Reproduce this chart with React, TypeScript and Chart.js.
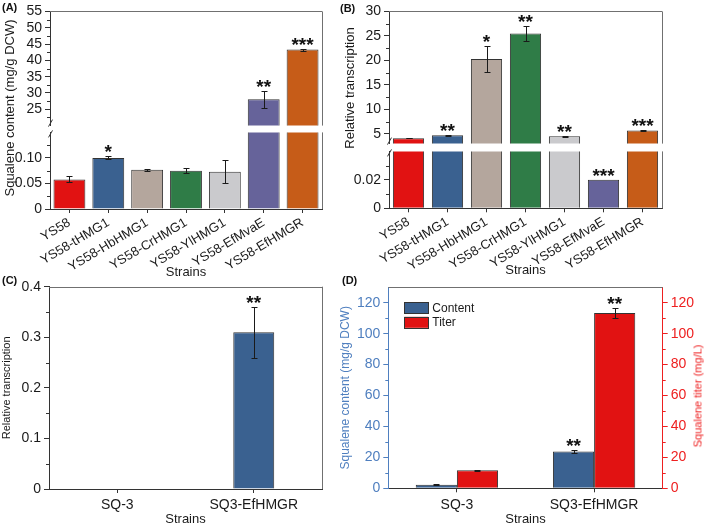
import React, { useEffect, useRef } from 'react';
import { Chart, registerables } from 'chart.js';

Chart.register(...registerables);

const FONT = '"Liberation Sans", Arial, Helvetica, sans-serif';
Chart.defaults.font.family = FONT;

// ---------- data ----------
const strainsAB = ['YS58', 'YS58-tHMG1', 'YS58-HbHMG1', 'YS58-CrHMG1', 'YS58-YlHMG1', 'YS58-EfMvaE', 'YS58-EfHMGR'];
const barColorsAB = ['#e11212', '#3a6190', '#b4a69d', '#2f7c47', '#cacacd', '#66639a', '#c65c18'];

const contentA = [0.058, 0.100, 0.077, 0.075, 0.073, 28.1, 43.3];
const contentAErr = [0.006, 0.003, 0.002, 0.005, 0.022, 2.6, 0.3];
const contentASig = ['', '*', '', '', '', '**', '***'];

const transB = [4.1, 4.7, 20.3, 25.5, 4.5, 0.02, 5.7];
const transBErr = [0.05, 0.08, 2.6, 1.5, 0.05, 0, 0.05];
const transBSig = ['', '**', '*', '**', '**', '***', '***'];

const strainsCD = ['SQ-3', 'SQ3-EfHMGR'];
const transC = [0, 0.31];
const transCErr = [0, 0.05];
const transCSig = ['', '**'];

const contentD = [2.3, 23.8];
const contentDErr = [0.2, 0.8];
const contentDSig = ['', '**'];
const titerD = [11.6, 113.4];
const titerDErr = [0.2, 3.5];
const titerDSig = ['', '**'];

// tick labels
const ticksAUpper = [25, 30, 35, 40, 45, 50, 55];
const ticksALower = [0, 0.05, 0.1];
const ticksBUpper = [5, 10, 15, 20, 25, 30];
const ticksBLower = [0, 0.02];
const ticksC = [0, 0.1, 0.2, 0.3, 0.4];
const ticksD = [0, 20, 40, 60, 80, 100, 120];

// ---------- styles ----------
const AXIS = '#333333';
const FRAME = '#707070';
const TXT = '#1a1a1a';
const BAR_EDGE = '#333333';
const BLUE_AX = '#4f7fbf';
const RED_AX = '#ee2020';
const CONTENT_BLUE = '#3a6190';
const TITER_RED = '#e11212';

// ---------- plugins ----------
const errorBars = {
  id: 'errorBars',
  afterDatasetsDraw(chart: any, _a: any, opts: any) {
    const { ctx, chartArea: a } = chart;
    const errs = opts.errors || [];
    const sigs = opts.sig || [];
    const size = opts.starSize || 19;
    chart.data.datasets.forEach((ds: any, di: number) => {
      const meta = chart.getDatasetMeta(di);
      const ys = chart.scales[meta.yAxisID];
      const e = errs[di] || [];
      const s = sigs[di] || [];
      meta.data.forEach((bar: any, i: number) => {
        const v = ds.data[i];
        const err = e[i] || 0;
        const x = Math.round(bar.x) + 0.5;
        if (err > 0) {
          ctx.save();
          ctx.beginPath();
          ctx.rect(a.left, a.top - 1, a.right - a.left, a.bottom - a.top + 1);
          ctx.clip();
          const yt = Math.round(ys.getPixelForValue(v + err)) + 0.5;
          const yb = Math.round(ys.getPixelForValue(v - err)) + 0.5;
          const cap = 3;
          ctx.strokeStyle = '#1a1a1a';
          ctx.lineWidth = 1;
          ctx.beginPath();
          ctx.moveTo(x, yt); ctx.lineTo(x, yb);
          ctx.moveTo(x - cap, yt); ctx.lineTo(x + cap, yt);
          ctx.moveTo(x - cap, yb); ctx.lineTo(x + cap, yb);
          ctx.stroke();
          ctx.restore();
        }
        if (s[i] && v >= ys.min && v <= ys.max) {
          const top = ys.getPixelForValue(v + err);
          ctx.save();
          ctx.font = `bold ${size}px ${FONT}`;
          ctx.textAlign = 'center';
          ctx.textBaseline = 'alphabetic';
          ctx.fillStyle = '#111111';
          ctx.fillText(s[i], bar.x, top + 2);
          ctx.restore();
        }
      });
    });
  },
};

const frame = {
  id: 'frame',
  afterDraw(chart: any, _a: any, opts: any) {
    const { ctx, chartArea: a } = chart;
    ctx.save();
    ctx.strokeStyle = FRAME;
    ctx.lineWidth = 1;
    ctx.beginPath();
    if (opts.top) {
      const y = Math.round(a.top) + 0.5;
      ctx.moveTo(a.left, y); ctx.lineTo(a.right, y);
    }
    if (opts.right) {
      const x = Math.round(a.right) + 0.5;
      ctx.moveTo(x, a.top); ctx.lineTo(x, a.bottom);
    }
    ctx.stroke();
    if (opts.breakAt) {
      const x = Math.round(a.left) + 0.5;
      ctx.strokeStyle = AXIS;
      ctx.beginPath();
      if (opts.breakAt === 'bottom') {
        const y = a.bottom;
        ctx.moveTo(x - 2, y + 1); ctx.lineTo(x + 2, y - 6);
      } else {
        const y = a.top;
        ctx.moveTo(x - 2, y + 5); ctx.lineTo(x + 2, y - 2);
      }
      ctx.stroke();
    }
    ctx.restore();
  },
};

const minorTicks = {
  id: 'minorTicks',
  afterDraw(chart: any, _a: any, opts: any) {
    const { ctx } = chart;
    (opts.axes || []).forEach((ax: any) => {
      const s = chart.scales[ax.id];
      if (!s) return;
      const step = ax.step;
      const majors = s.ticks.map((t: any) => t.value);
      ctx.save();
      ctx.strokeStyle = ax.color || AXIS;
      ctx.lineWidth = 1;
      ctx.beginPath();
      const n0 = Math.ceil(s.min / step - 1e-9);
      const n1 = Math.floor(s.max / step + 1e-9);
      for (let k = n0; k <= n1; k++) {
        const v = k * step;
        if (Math.abs(v - s.min) < step * 1e-3 || Math.abs(v - s.max) < step * 1e-3) continue;
        if (majors.some((m: number) => Math.abs(m - v) < step * 1e-3)) continue;
        const p = Math.round(s.getPixelForValue(v)) + 0.5;
        if (s.position === 'right') {
          ctx.moveTo(s.left, p); ctx.lineTo(s.left + 3, p);
        } else {
          ctx.moveTo(s.right, p); ctx.lineTo(s.right - 3, p);
        }
      }
      ctx.stroke();
      ctx.restore();
    });
  },
};

// legend drawn inside the plot area from the chart's own datasets
const innerLegend = {
  id: 'innerLegend',
  afterDraw(chart: any, _a: any, opts: any) {
    if (!opts.show) return;
    const { ctx, chartArea: a } = chart;
    const x0 = a.left + opts.dx;
    let y = a.top + opts.dy;
    ctx.save();
    chart.data.datasets.forEach((ds: any) => {
      ctx.fillStyle = ds.backgroundColor;
      ctx.fillRect(x0, y, opts.boxW, opts.boxH);
      ctx.strokeStyle = ds.borderColor;
      ctx.lineWidth = 1;
      ctx.strokeRect(Math.round(x0) + 0.5, Math.round(y) + 0.5, opts.boxW, opts.boxH);
      ctx.fillStyle = TXT;
      ctx.font = `${opts.size}px ${FONT}`;
      ctx.textAlign = 'left';
      ctx.textBaseline = 'middle';
      ctx.fillText(ds.label, x0 + opts.boxW + 4, y + opts.boxH / 2 + 0.5);
      y += opts.step;
    });
    ctx.restore();
  },
};

// ---------- helpers ----------
function yAxis(o: any) {
  return {
    type: 'linear',
    position: o.position || 'left',
    min: o.min,
    max: o.max,
    afterBuildTicks: (s: any) => {
      s.ticks = o.ticks.map((v: number) => ({ value: v }));
    },
    afterFit: (s: any) => {
      s.width = o.width;
    },
    ticks: {
      font: { size: o.size },
      color: o.color || TXT,
      padding: 3,
      autoSkip: false,
      callback: (v: any) => o.fmt(Number(v)),
    },
    grid: { drawOnChartArea: false, drawTicks: true, tickLength: 5, color: o.axisColor || AXIS },
    border: { display: true, color: o.axisColor || AXIS, width: 1 },
    title: o.title || { display: false },
  };
}

function xAxis(o: any) {
  return {
    type: 'category',
    offset: true,
    display: o.display,
    afterFit: (s: any) => {
      if (o.height) s.height = o.height;
    },
    ticks: {
      font: { size: o.size || 13 },
      color: TXT,
      minRotation: o.rotation || 0,
      maxRotation: o.rotation || 0,
      autoSkip: false,
      padding: o.pad ?? 2,
    },
    grid: { drawOnChartArea: false, offset: false, drawTicks: true, tickLength: 4, color: AXIS },
    border: { display: true, color: AXIS, width: 1 },
    title: { display: true, text: 'Strains', font: { size: 13 }, color: TXT, padding: { top: 0, bottom: 1 } },
  };
}

const fmt2 = (v: number) => (v === 0 ? '0' : v.toFixed(2));
const fmt1 = (v: number) => (v === 0 ? '0' : v.toFixed(1));
const fmt0 = (v: number) => String(v);

function base(padding: any, scales: any, plugins: any) {
  return {
    responsive: false,
    animation: false,
    events: [],
    layout: { padding },
    scales,
    plugins: {
      legend: { display: false },
      tooltip: { enabled: false },
      ...plugins,
    },
  };
}

function abDataset(values: number[], bp: number) {
  return {
    label: 'value',
    data: values,
    backgroundColor: barColorsAB,
    borderColor: BAR_EDGE,
    borderWidth: 1,
    barPercentage: bp,
    categoryPercentage: 1,
    clip: 0,
  };
}

const pluginList = [errorBars, frame, minorTicks, innerLegend];

const configs: any = {
  aUpper: {
    type: 'bar',
    data: { labels: strainsAB, datasets: [abDataset(contentA, 0.82)] },
    options: base({ top: 9, bottom: 9, left: 0, right: 8 }, {
      x: xAxis({ display: false }),
      y: yAxis({ min: 20, max: 55, ticks: ticksAUpper, width: 50, size: 14, fmt: fmt0 }),
    }, {
      errorBars: { errors: [contentAErr], sig: [contentASig] },
      frame: { top: true, right: true, breakAt: 'bottom' },
      minorTicks: { axes: [{ id: 'y', step: 2.5 }] },
    }),
    plugins: pluginList,
  },
  aLower: {
    type: 'bar',
    data: { labels: strainsAB, datasets: [abDataset(contentA, 0.82)] },
    options: base({ top: 10, bottom: 0, left: 0, right: 8 }, {
      x: xAxis({ display: true, height: 72, size: 13, rotation: 31 }),
      y: yAxis({ min: 0, max: 0.15, ticks: ticksALower, width: 50, size: 14, fmt: fmt2 }),
    }, {
      errorBars: { errors: [contentAErr], sig: [contentASig] },
      frame: { right: true, breakAt: 'top' },
      minorTicks: { axes: [{ id: 'y', step: 0.025 }] },
    }),
    plugins: pluginList,
  },
  bUpper: {
    type: 'bar',
    data: { labels: strainsAB, datasets: [abDataset(transB, 0.8)] },
    options: base({ top: 7, bottom: 8.5, left: 0, right: 8 }, {
      x: xAxis({ display: false }),
      y: yAxis({ min: 3, max: 30, ticks: ticksBUpper, width: 49, size: 14, fmt: fmt0 }),
    }, {
      errorBars: { errors: [transBErr], sig: [transBSig] },
      frame: { top: true, right: true, breakAt: 'bottom' },
      minorTicks: { axes: [{ id: 'y', step: 2.5 }] },
    }),
    plugins: pluginList,
  },
  bLower: {
    type: 'bar',
    data: { labels: strainsAB, datasets: [abDataset(transB, 0.8)] },
    options: base({ top: 10, bottom: 0, left: 0, right: 8 }, {
      x: xAxis({ display: true, height: 70.7, size: 13, rotation: 31 }),
      y: yAxis({ min: 0, max: 0.04, ticks: ticksBLower, width: 49, size: 14, fmt: fmt2 }),
    }, {
      errorBars: { errors: [transBErr], sig: [transBSig] },
      frame: { right: true, breakAt: 'top' },
      minorTicks: { axes: [{ id: 'y', step: 0.01 }] },
    }),
    plugins: pluginList,
  },
  c: {
    type: 'bar',
    data: {
      labels: strainsCD,
      datasets: [{
        label: 'Relative transcription',
        data: transC,
        backgroundColor: CONTENT_BLUE,
        borderColor: BAR_EDGE,
        borderWidth: 1,
        barPercentage: 0.3,
        categoryPercentage: 1,
        clip: 0,
      }],
    },
    options: base({ top: 16.7, bottom: 0, left: 0, right: 13 }, {
      x: xAxis({ display: true, height: 39, size: 14, rotation: 0, pad: 4 }),
      y: yAxis({
        min: 0, max: 0.4, ticks: ticksC, width: 49, size: 14, fmt: fmt1,
        title: { display: true, text: 'Relative transcription', font: { size: 11 }, color: TXT, padding: { top: 0, bottom: 0 } },
      }),
    }, {
      errorBars: { errors: [transCErr], sig: [transCSig] },
      frame: { top: true, right: true },
      minorTicks: { axes: [{ id: 'y', step: 0.05 }] },
    }),
    plugins: pluginList,
  },
  d: {
    type: 'bar',
    data: {
      labels: strainsCD,
      datasets: [
        {
          label: 'Content',
          data: contentD,
          yAxisID: 'y',
          backgroundColor: CONTENT_BLUE,
          borderColor: BAR_EDGE,
          borderWidth: 1,
          barPercentage: 1,
          categoryPercentage: 0.6,
          clip: 0,
        },
        {
          label: 'Titer',
          data: titerD,
          yAxisID: 'y1',
          backgroundColor: TITER_RED,
          borderColor: BAR_EDGE,
          borderWidth: 1,
          barPercentage: 1,
          categoryPercentage: 0.6,
          clip: 0,
        },
      ],
    },
    options: base({ top: 17.3, bottom: 0, left: 0, right: 4 }, {
      x: xAxis({ display: true, height: 39.7, size: 14, rotation: 0, pad: 4 }),
      y: yAxis({
        min: 0, max: 130, ticks: ticksD, width: 50.3, size: 14, fmt: fmt0, color: BLUE_AX, axisColor: BLUE_AX,
        title: { display: true, text: 'Squalene content (mg/g DCW)', font: { size: 12 }, color: BLUE_AX, padding: { top: 0, bottom: 0 } },
      }),
      y1: yAxis({
        position: 'right', min: 0, max: 130, ticks: ticksD, width: 42.3, size: 14, fmt: fmt0, color: RED_AX, axisColor: RED_AX,
      }),
    }, {
      errorBars: { errors: [contentDErr, titerDErr], sig: [contentDSig, titerDSig] },
      frame: { top: true },
      minorTicks: { axes: [{ id: 'y', step: 10, color: BLUE_AX }, { id: 'y1', step: 10, color: RED_AX }] },
      innerLegend: { show: true, dx: 16, dy: 15, boxW: 24, boxH: 11, step: 14.5, size: 12 },
    }),
    plugins: pluginList,
  },
};

function ChartCanvas({ left, top, width, height, config }: any) {
  const ref = useRef<HTMLCanvasElement | null>(null);
  useEffect(() => {
    const chart = new Chart(ref.current as HTMLCanvasElement, config);
    return () => chart.destroy();
  }, [config]);
  return (
    <canvas
      ref={ref}
      width={width}
      height={height}
      style={{ position: 'absolute', left, top, width, height }}
    />
  );
}

function VText({ x, y, text, size, color, bold }: any) {
  return (
    <div
      style={{
        position: 'absolute',
        left: x,
        top: y,
        transform: 'translate(-50%, -50%) rotate(-90deg)',
        whiteSpace: 'nowrap',
        fontFamily: FONT,
        fontSize: size,
        color: color || TXT,
        fontWeight: bold ? 'bold' : 'normal',
        lineHeight: 1,
      }}
    >
      {text}
    </div>
  );
}

function Label({ x, y, text }: any) {
  return (
    <div
      style={{
        position: 'absolute',
        left: x,
        top: y,
        fontFamily: FONT,
        fontSize: 11,
        fontWeight: 'bold',
        color: '#111',
        lineHeight: 1,
        whiteSpace: 'nowrap',
      }}
    >
      {text}
    </div>
  );
}

export default function App() {
  return (
    <div style={{ position: 'fixed', left: 0, top: 0, width: 709, height: 528, overflow: 'hidden', background: '#ffffff' }}>
      <ChartCanvas left={0} top={0} width={330} height={137} config={configs.aUpper} />
      <ChartCanvas left={0} top={121} width={330} height={160} config={configs.aLower} />
      <ChartCanvas left={340} top={0} width={330} height={155} config={configs.bUpper} />
      <ChartCanvas left={340} top={140} width={330} height={139} config={configs.bLower} />
      <ChartCanvas left={0} top={270} width={335} height={258} config={configs.c} />
      <ChartCanvas left={338} top={270} width={371} height={258} config={configs.d} />
      <VText x={9} y={108} text="Squalene content (mg/g DCW)" size={13} />
      <VText x={349} y={88} text="Relative transcription" size={13} />
      <VText x={698} y={396} text="Squalene titer (mg/L)" size={11} color={RED_AX} />
      <Label x={2} y={2} text="(A)" />
      <Label x={340} y={3} text="(B)" />
      <Label x={2} y={275} text="(C)" />
      <Label x={342} y={275} text="(D)" />
    </div>
  );
}
